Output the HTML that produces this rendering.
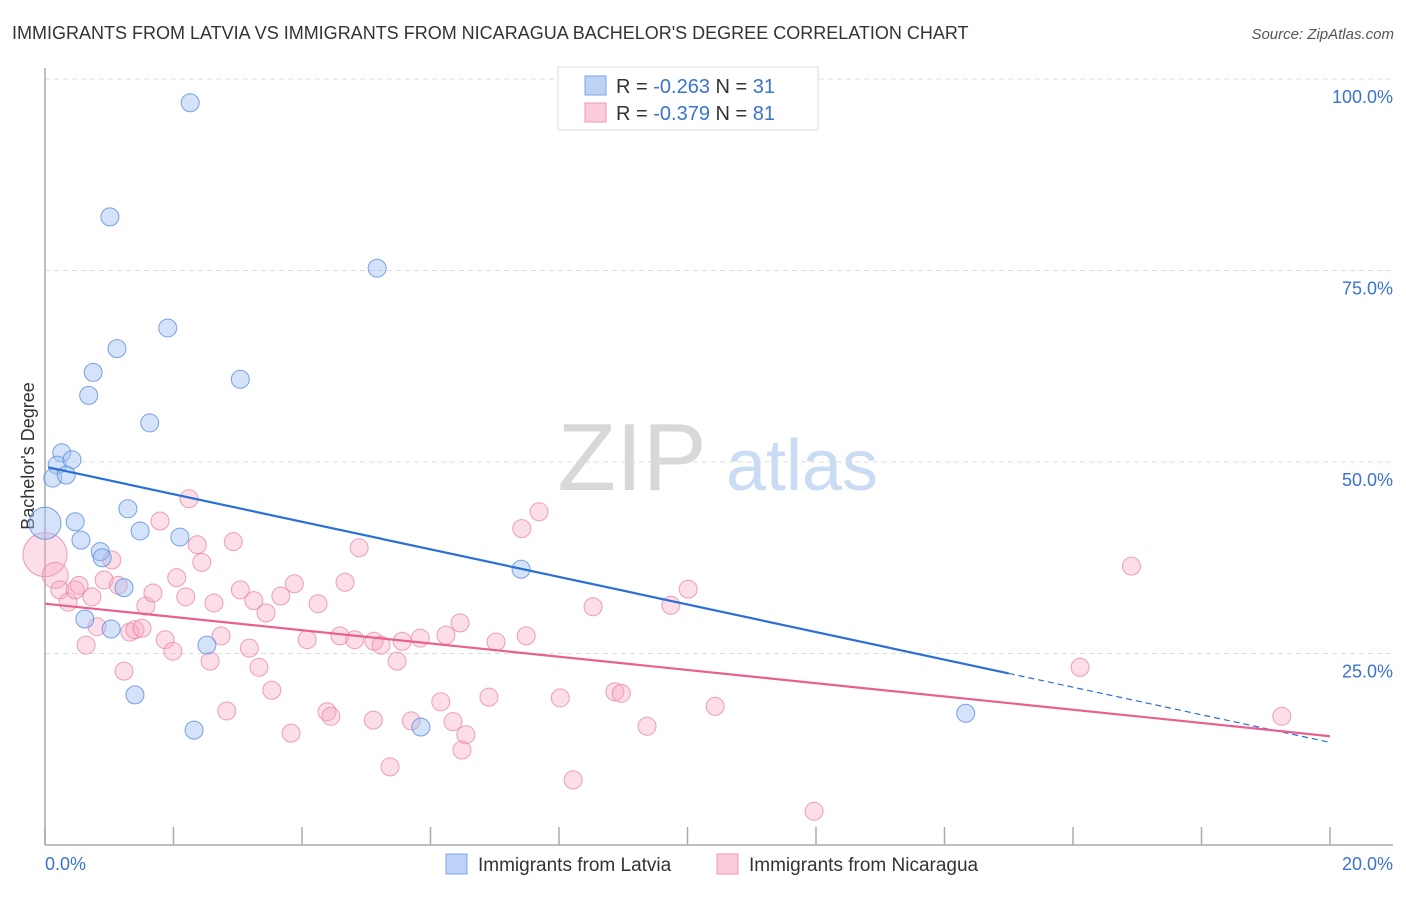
<!DOCTYPE html>
<html><head><meta charset="utf-8"><style>
body{margin:0;background:#fff;font-family:"Liberation Sans",sans-serif}
svg text{font-family:"Liberation Sans",sans-serif}
</style></head><body>
<svg id="chart" width="1406" height="892" viewBox="0 0 1406 892" xmlns="http://www.w3.org/2000/svg">
<text x="12" y="39" font-size="18" fill="#333">IMMIGRANTS FROM LATVIA VS IMMIGRANTS FROM NICARAGUA BACHELOR'S DEGREE CORRELATION CHART</text>
<text x="1394" y="39" font-size="15" fill="#555" text-anchor="end" font-style="italic">Source: ZipAtlas.com</text>
<g>
<text x="632" y="490" font-size="96" fill="#d8d8d8" font-family="Liberation Serif,serif" text-anchor="middle">ZIP</text>
<text x="802" y="490" font-size="72" fill="#c9dcf4" text-anchor="middle">atlas</text>
</g>
<g id="grid"></g>
<g id="axes"></g>
<g id="points"></g>
<g id="trends"></g>
<g>
<rect x="558" y="67" width="260" height="63" fill="#fff" stroke="#ddd"/>
<rect x="585" y="76" width="21" height="19" fill="#bcd3f5" stroke="#7aa5e6"/>
<text x="616" y="93" font-size="20" fill="#333">R = <tspan fill="#3a73d0">-0.263</tspan>   N = <tspan fill="#3a73d0">31</tspan></text>
<rect x="585" y="103" width="21" height="19" fill="#fbcbdb" stroke="#ee9ab6"/>
<text x="616" y="120" font-size="20" fill="#333">R = <tspan fill="#3a73d0">-0.379</tspan>   N = <tspan fill="#3a73d0">81</tspan></text>
</g>
<g>
<rect x="446" y="854" width="21" height="20" fill="#bcd3f5" stroke="#7aa5e6"/>
<text x="478" y="871" font-size="19" fill="#333">Immigrants from Latvia</text>
<rect x="717" y="854" width="21" height="20" fill="#fbcbdb" stroke="#ee9ab6"/>
<text x="749" y="871" font-size="19" fill="#333">Immigrants from Nicaragua</text>
</g>
</svg>
<script>
const xTicks=[0,2,4,6,8,10,12,14,16,18,20];
const yTicks=[25,50,75,100];
const yTickLabels=["25.0%","50.0%","75.0%","100.0%"];
const latviaX=[2.26,1.01,5.17,1.91,1.12,0.75,3.04,0.68,1.63,0.26,0.19,0.42,0.12,0.33,0.0,0.47,1.29,0.56,1.48,2.10,0.86,0.89,1.23,0.62,1.03,2.52,1.40,2.32,5.85,7.41,14.33];
const latviaY=[96.9,82.0,75.3,67.5,64.8,61.7,60.8,58.7,55.1,51.2,49.6,50.3,47.9,48.3,42.0,42.2,43.9,39.8,41.0,40.2,38.3,37.5,33.6,29.5,28.2,26.1,19.6,15.0,15.4,36.0,17.2];
const latviaR=[9,9,9,9,9,9,9,9,9,9,9,9,9,9,16,9,9,9,9,9,9,9,9,9,9,9,9,9,9,9,9];
const nicX=[0.00,0.16,0.23,0.36,0.47,0.53,0.73,0.81,0.64,0.92,1.04,1.14,1.32,1.40,1.51,1.57,1.23,1.68,1.79,1.87,1.99,2.05,2.19,2.24,2.37,2.44,2.57,2.63,2.74,2.83,2.93,3.04,3.18,3.25,3.33,3.44,3.53,3.67,3.83,3.88,4.08,4.25,4.39,4.45,4.67,4.59,4.82,4.89,5.11,5.12,5.23,5.37,5.48,5.56,5.70,5.84,6.16,6.24,6.35,6.46,6.49,6.55,6.91,7.02,7.42,7.49,7.69,8.02,8.22,8.53,8.87,8.97,9.37,9.74,10.01,10.43,11.97,16.11,16.91,19.25];
const nicY=[37.9,35.2,33.3,31.7,33.3,33.9,32.4,28.5,26.1,34.6,37.2,33.9,27.8,28.1,28.3,31.2,22.7,32.9,42.3,26.8,25.3,34.9,32.4,45.2,39.2,36.9,24.0,31.6,27.3,17.5,39.6,33.3,25.7,31.9,23.2,30.3,20.2,32.5,14.6,34.1,26.8,31.5,17.4,16.8,34.3,27.3,26.8,38.8,16.3,26.6,26.1,10.2,24.0,26.6,16.2,27.0,18.7,27.4,16.1,29.0,12.4,14.4,19.3,26.5,41.3,27.3,43.5,19.2,8.5,31.1,20.0,19.8,15.5,31.3,33.4,18.1,4.4,23.2,36.4,16.8];
const nicR0=[22,13];
const latviaTrend=[49.4,-1.8];
const nicTrend=[31.5,-0.865];
const latviaSolidEnd=15.0;

const X0=45,X1=1330,Y0=845,YH=766;
const sx=v=>X0+(v/20)*(X1-X0);
const sy=v=>Y0-(v/100)*YH;
const NS="http://www.w3.org/2000/svg";
function mk(tag,attrs,parent){const e=document.createElementNS(NS,tag);for(const k in attrs)e.setAttribute(k,attrs[k]);parent.appendChild(e);return e;}
const grid=document.getElementById('grid'),axes=document.getElementById('axes'),pts=document.getElementById('points'),tr=document.getElementById('trends');
yTicks.forEach((t,i)=>{
 const l=mk('line',{x1:X0,x2:1393,y1:sy(t),y2:sy(t),stroke:'#ddd','stroke-dasharray':'5,4'},grid);
 
 
 const tx=mk('text',{x:1393,y:sy(t)+24,'font-size':18,fill:'#3a73d0','text-anchor':'end'},axes);
 tx.textContent=yTickLabels[i];
 
 
});
const ya=mk('line',{x1:X0,x2:X0,y1:68,y2:Y0,stroke:'#aaa','stroke-width':1.5},axes);


const xa=mk('line',{x1:X0,x2:1393,y1:Y0,y2:Y0,stroke:'#aaa','stroke-width':1.5},axes);


xTicks.forEach(t=>{
 const l=mk('line',{x1:sx(t),x2:sx(t),y1:827,y2:Y0,stroke:'#aaa','stroke-width':1.5},axes);
 
 
});
const xl0=mk('text',{x:45,y:870,'font-size':18,fill:'#3a73d0'},axes);xl0.textContent='0.0%';


const xl1=mk('text',{x:1393,y:870,'font-size':18,fill:'#3a73d0','text-anchor':'end'},axes);xl1.textContent='20.0%';


const yt=mk('text',{x:34,y:456,'font-size':18,fill:'#333','text-anchor':'middle',transform:'rotate(-90 34 456)'},axes);yt.textContent="Bachelor's Degree";



nicX.forEach((v,i)=>{
 const r=i<nicR0.length?nicR0[i]:9;
 const c=mk('circle',{cx:sx(v),cy:sy(nicY[i]),r:r,fill:'rgba(246,168,195,0.38)',stroke:'rgba(232,130,165,0.75)','stroke-width':1},pts);
 
 
});
latviaX.forEach((v,i)=>{
 const c=mk('circle',{cx:sx(v),cy:sy(latviaY[i]),r:latviaR[i],fill:'rgba(160,192,242,0.45)',stroke:'rgba(90,140,220,0.8)','stroke-width':1},pts);
 
 
});
const ly=x=>latviaTrend[0]+latviaTrend[1]*x, ny=x=>nicTrend[0]+nicTrend[1]*x;
const bl=mk('line',{x1:sx(0.05),y1:sy(ly(0.05)),x2:sx(latviaSolidEnd),y2:sy(ly(latviaSolidEnd)),stroke:'#2a6fd6','stroke-width':2.2},tr);


const bd=mk('line',{x1:sx(latviaSolidEnd),y1:sy(ly(latviaSolidEnd)),x2:sx(20),y2:sy(ly(20)),stroke:'#2a6fd6','stroke-width':1.2,'stroke-dasharray':'6,4'},tr);


const pl=mk('line',{x1:sx(0),y1:sy(ny(0)),x2:sx(20),y2:sy(ny(20)),stroke:'#e8608f','stroke-width':2.2},tr);


</script>
</body></html>
